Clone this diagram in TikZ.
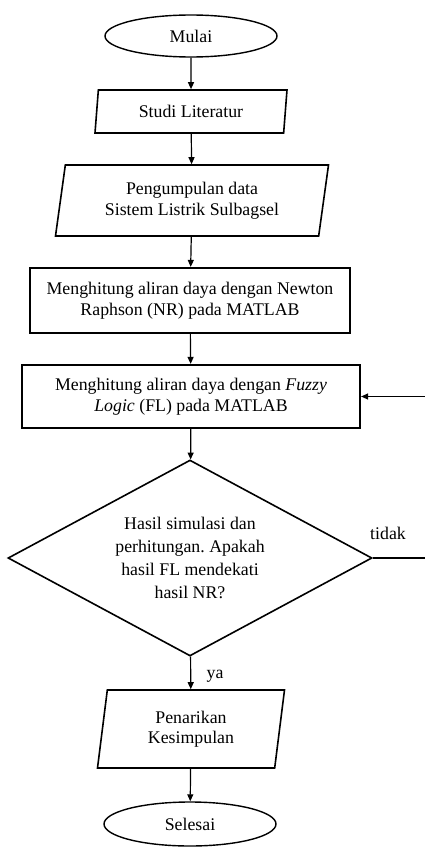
\documentclass[tikz,border=0pt]{standalone}
\usepackage{fontspec}
\setmainfont{Liberation Serif}
\usetikzlibrary{shapes.geometric,arrows.meta}

\tikzset{
  terminal/.style={draw, ellipse, line width=1.4pt, minimum width=172pt, minimum height=42pt, inner sep=0pt},
  iobox/.style={draw, trapezium, trapezium left angle=75, trapezium right angle=105,
    trapezium stretches body, line width=1.6pt, align=center, inner sep=0pt},
  procbox/.style={draw, rectangle, line width=2.2pt, align=center, inner sep=0pt},
  decision/.style={draw, diamond, aspect=1.86, line width=1.6pt, align=center, inner sep=0pt,
    minimum width=364pt, minimum height=196pt, font=\fontsize{17.8}{23}\selectfont},
  flow/.style={-{Triangle[length=7pt,width=6pt]}, line width=1.2pt},
}

\begin{document}
\frenchspacing
\begin{tikzpicture}[x=1pt, y=-1pt, font=\fontsize{17.8}{20.5}\selectfont]
\useasboundingbox (0,0) rectangle (425,851);

% nodes
\node[terminal] (mulai) at (191,36) {Mulai};
\node[iobox, minimum width=192pt, minimum height=43pt] (studi) at (191,111.5) {Studi Literatur};
\node[iobox, minimum width=273pt, minimum height=71pt] (data) at (192,200.5) {Pengumpulan data\\Sistem Listrik Sulbagsel};
\node[procbox, minimum width=320pt, minimum height=65pt] (nr) at (190,300.5) {Menghitung aliran daya dengan Newton\\Raphson (NR) pada MATLAB};
\node[procbox, minimum width=338pt, minimum height=63pt] (fl) at (191,396.5) {Menghitung aliran daya dengan \textit{Fuzzy}\\\textit{Logic} (FL) pada MATLAB};
\node[decision] (cek) at (190,558) {Hasil simulasi dan\\perhitungan. Apakah\\hasil FL mendekati\\hasil NR?};
\node[iobox, minimum width=187pt, minimum height=78pt] (simpul) at (191,729) {Penarikan\\Kesimpulan};
\node[terminal, minimum height=44pt] (selesai) at (190,824) {Selesai};

% labels
\node (tidak) at (388,533) {tidak};
\node (ya) at (215,676) {ya};
\coordinate (balik) at (432,558);

\draw[flow] (mulai) -- (studi);
\draw[flow] (studi) -- (data);
\draw[flow] (data) -- (nr);
\draw[flow] (nr) -- (fl);
\draw[flow] (fl) -- (cek);
\draw[flow] (cek) -- (simpul);
\draw[flow] (simpul) -- (selesai);
\draw[flow] (cek.east) -- (balik) |- (fl.east);
\end{tikzpicture}
\end{document}
